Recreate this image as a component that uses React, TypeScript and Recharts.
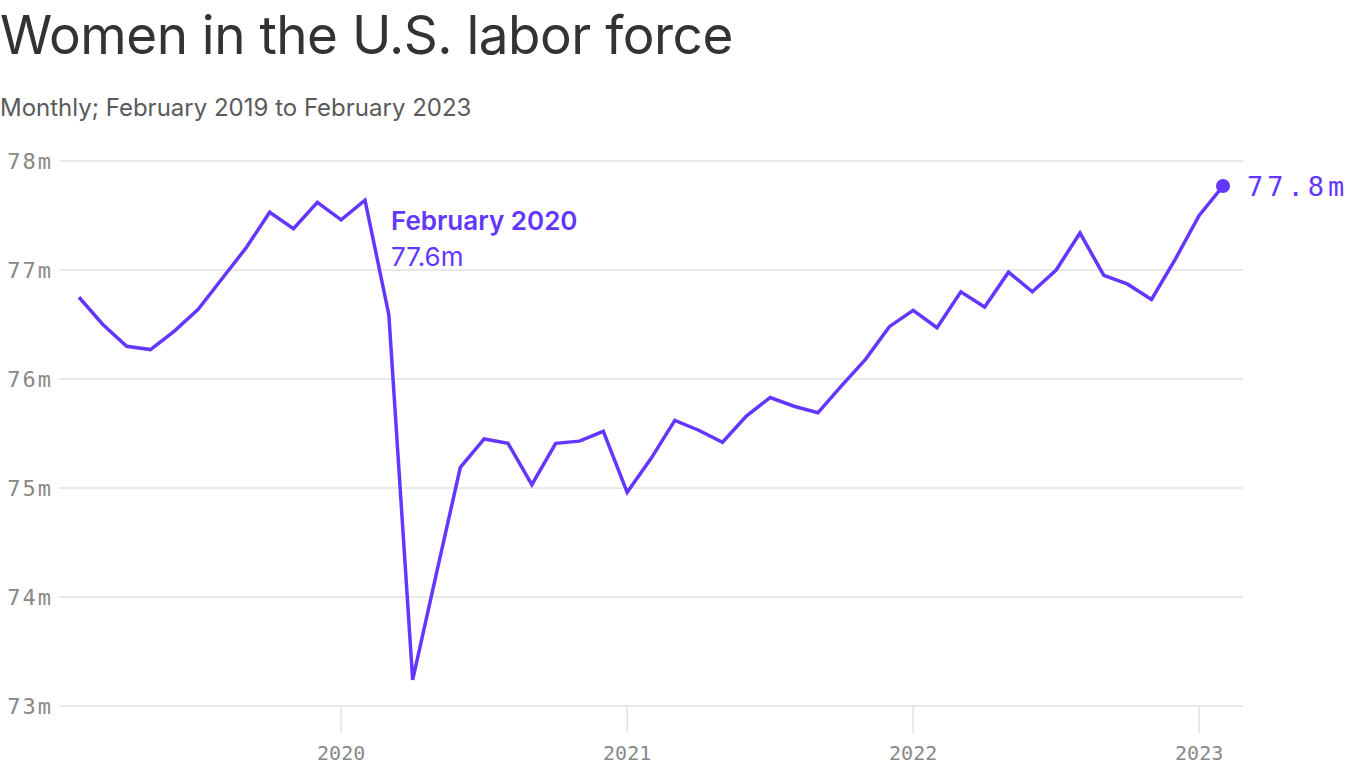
import { LineChart, Line, XAxis, YAxis, CartesianGrid, LabelList } from "recharts";

const months = [
  "Feb 2019", "Mar 2019", "Apr 2019", "May 2019", "Jun 2019", "Jul 2019", "Aug 2019", "Sep 2019", "Oct 2019", "Nov 2019", "Dec 2019",
  "Jan 2020", "Feb 2020", "Mar 2020", "Apr 2020", "May 2020", "Jun 2020", "Jul 2020", "Aug 2020", "Sep 2020", "Oct 2020", "Nov 2020", "Dec 2020",
  "Jan 2021", "Feb 2021", "Mar 2021", "Apr 2021", "May 2021", "Jun 2021", "Jul 2021", "Aug 2021", "Sep 2021", "Oct 2021", "Nov 2021", "Dec 2021",
  "Jan 2022", "Feb 2022", "Mar 2022", "Apr 2022", "May 2022", "Jun 2022", "Jul 2022", "Aug 2022", "Sep 2022", "Oct 2022", "Nov 2022", "Dec 2022",
  "Jan 2023", "Feb 2023",
];

// women in the labor force, millions
const women = [
  76.75, 76.5, 76.3, 76.27, 76.44, 76.64, 76.92, 77.2, 77.53, 77.38, 77.62,
  77.46, 77.64, 76.59, 73.24, 74.22, 75.19, 75.45, 75.41, 75.03, 75.41, 75.43, 75.52,
  74.96, 75.27, 75.62, 75.53, 75.42, 75.66, 75.83, 75.75, 75.69, 75.94, 76.18, 76.48,
  76.63, 76.47, 76.8, 76.66, 76.98, 76.8, 77.0, 77.34, 76.95, 76.87, 76.73, 77.1,
  77.5, 77.77,
];

const yearTicks = ["Jan 2020", "Jan 2021", "Jan 2022", "Jan 2023"];
const yearLabels = ["2020", "2021", "2022", "2023"];
const yTicks = [73, 74, 75, 76, 77, 78];

const highlightMonth = "Feb 2020";
const highlightTitle = "February 2020";
const highlightText = "77.6m";
const PURPLE = "#6337ff";
const MONO = "'DejaVu Sans Mono', 'Liberation Mono', monospace";
const SANS = "Inter, 'Noto Sans', sans-serif";

const data = months.map((m, i) => ({ i, month: m, value: women[i] }));
const lastIdx = data.length - 1;
const highlightIdx = months.indexOf(highlightMonth);

function PointLabel(props: any) {
  const { x, y, index, value } = props;
  if (index === highlightIdx) {
    return (
      <g>
        <text
          x={x + 26}
          y={y + 30}
          fill={PURPLE}
          fontFamily={SANS}
          fontSize={26}
          fontWeight={600}
          stroke="#fff"
          strokeWidth={6}
          paintOrder="stroke"
        >
          {highlightTitle}
        </text>
        <text
          x={x + 26}
          y={y + 66}
          fill={PURPLE}
          fontFamily={SANS}
          fontSize={26}
          stroke="#fff"
          strokeWidth={6}
          paintOrder="stroke"
        >
          {highlightText}
        </text>
      </g>
    );
  }
  if (index === lastIdx) {
    return (
      <text
        x={x + 24}
        y={y + 10}
        fill={PURPLE}
        fontFamily={MONO}
        fontSize={27}
        letterSpacing={4}
      >
        {value.toFixed(1)}m
      </text>
    );
  }
  return null;
}

function EndDot(props: any) {
  const { cx, cy, index } = props;
  if (index !== lastIdx) return <g key={index} />;
  return <circle key={index} cx={cx} cy={cy} r={7} fill={PURPLE} />;
}

export default function App() {
  const tickIdx = yearTicks.map((t) => months.indexOf(t));
  return (
    <div style={{ position: "absolute", left: 0, top: 0, width: 1366, height: 768, background: "#fff" }}>
      <div
        style={{
          position: "absolute",
          left: 0,
          top: 3,
          fontFamily: SANS,
          fontSize: 53,
          color: "#333",
          letterSpacing: -0.5,
          lineHeight: "64px",
          whiteSpace: "nowrap",
        }}
      >
        Women in the U.S. labor force
      </div>
      <div
        style={{
          position: "absolute",
          left: 0,
          top: 92,
          fontFamily: SANS,
          fontSize: 24,
          color: "#5a5a5a",
          lineHeight: "32px",
          whiteSpace: "nowrap",
        }}
      >
        Monthly; February 2019 to February 2023
      </div>
      <div style={{ position: "absolute", left: 0, top: 0 }}>
        <LineChart
          width={1366}
          height={768}
          data={data}
          margin={{ top: 161, right: 123, bottom: 0, left: 0 }}
        >
          <CartesianGrid vertical={false} stroke="#e2e2e2" strokeWidth={1.5} />
          <XAxis
            dataKey="i"
            type="number"
            domain={[0, lastIdx]}
            ticks={tickIdx}
            tickFormatter={(v) => yearLabels[tickIdx.indexOf(v)]}
            padding={{ left: 20, right: 20 }}
            axisLine={false}
            tickSize={27}
            tickMargin={13}
            tickLine={{ stroke: "#e2e2e2", strokeWidth: 1.5 }}
            height={62}
            tick={{ fill: "#888", fontFamily: MONO, fontSize: 20 }}
          />
          <YAxis
            domain={[73, 78]}
            ticks={yTicks}
            width={59}
            axisLine={false}
            tickLine={false}
            tickMargin={0}
            tickFormatter={(v) => `${v}m`}
            tick={{ fill: "#888", fontFamily: MONO, fontSize: 22, letterSpacing: 2 }}
          />
          <Line
            dataKey="value"
            stroke={PURPLE}
            strokeWidth={3.5}
            type="linear"
            dot={EndDot}
            activeDot={false}
            isAnimationActive={false}
          >
            <LabelList dataKey="value" content={PointLabel} />
          </Line>
        </LineChart>
      </div>
    </div>
  );
}
